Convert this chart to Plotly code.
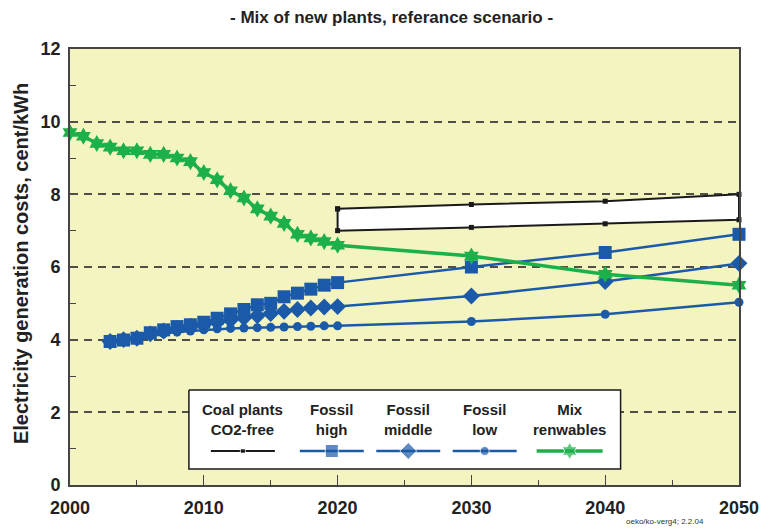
import plotly.graph_objects as go

# ---------------- data ----------------
years_renew = list(range(2000, 2021)) + [2030, 2040, 2050]
mix_renewables = [9.7, 9.6, 9.4, 9.3, 9.2, 9.2, 9.1, 9.1, 9.0, 8.9, 8.6, 8.4, 8.1, 7.9,
                  7.6, 7.4, 7.2, 6.9, 6.8, 6.7, 6.6, 6.3, 5.8, 5.5]

years_fossil = list(range(2003, 2021)) + [2030, 2040, 2050]
fossil_high = [3.95, 3.99, 4.04, 4.19, 4.27, 4.36, 4.41, 4.48, 4.59, 4.71, 4.83, 4.96,
               5.0, 5.18, 5.28, 5.39, 5.5, 5.57, 6.0, 6.4, 6.9]
fossil_middle = [3.95, 4.0, 4.04, 4.16, 4.24, 4.31, 4.37, 4.42, 4.48, 4.54, 4.6, 4.66,
                 4.72, 4.78, 4.83, 4.87, 4.9, 4.91, 5.2, 5.6, 6.1]
fossil_low = [3.95, 3.99, 4.04, 4.12, 4.17, 4.21, 4.24, 4.27, 4.3, 4.31, 4.32, 4.33,
              4.34, 4.35, 4.36, 4.37, 4.38, 4.38, 4.5, 4.7, 5.03]

years_coal = [2020, 2030, 2040, 2050]
coal_upper = [7.6, 7.72, 7.81, 8.0]
coal_lower = [7.0, 7.09, 7.19, 7.3]

y_ticks = [0, 2, 4, 6, 8, 10, 12]
x_ticks = [2000, 2010, 2020, 2030, 2040, 2050]

legend_labels = ["Coal plants<br>CO2-free", "Fossil<br>high", "Fossil<br>middle",
                 "Fossil<br>low", "Mix<br>renwables"]

# ---------------- styles ----------------
BLUE = "#1B5AA9"
GREEN = "#1CB04B"
BLACK = "#1a1a1a"
FONT = "Liberation Sans, Arial, sans-serif"

# plot area in page pixels
PL, PR, PT, PB = 70, 739.5, 49, 485
PW, PH = PR - PL, PB - PT


def px(x):
    return (x - PL) / PW


def py(y):
    return (PB - y) / PH


styles = [
    dict(color=BLACK, width=2, symbol="square", size=5),
    dict(color=BLUE, width=2.5, symbol="square", size=13),
    dict(color=BLUE, width=2.5, symbol="diamond", size=13),
    dict(color=BLUE, width=2.5, symbol="circle", size=9),
    dict(color=GREEN, width=3.5, symbol="hexagram", size=13),
]

fig = go.Figure()

# coal band (closed polygon, white filled)
cx = years_coal + years_coal[::-1] + [years_coal[0]]
cy = coal_upper + coal_lower[::-1] + [coal_upper[0]]
fig.add_trace(go.Scatter(x=cx, y=cy, mode="lines+markers", fill="toself",
                         fillcolor="white",
                         line=dict(color=BLACK, width=2),
                         marker=dict(symbol="square", size=5, color=BLACK),
                         showlegend=False, cliponaxis=False))

series = [(years_fossil, fossil_low, styles[3]),
          (years_fossil, fossil_middle, styles[2]),
          (years_fossil, fossil_high, styles[1]),
          (years_renew, mix_renewables, styles[4])]
for xs, ys, st in series:
    fig.add_trace(go.Scatter(x=xs, y=ys, mode="lines+markers",
                             line=dict(color=st["color"], width=st["width"]),
                             marker=dict(symbol=st["symbol"], size=st["size"],
                                         color=st["color"]),
                             showlegend=False, cliponaxis=False))

# ---------------- custom legend on overlay pixel axes ----------------
box = dict(x0=189, x1=621, y0=390, y1=469)
fig.add_trace(go.Scatter(x=[box["x0"], box["x1"], box["x1"], box["x0"], box["x0"]],
                         y=[box["y0"], box["y0"], box["y1"], box["y1"], box["y0"]],
                         mode="lines", fill="toself", fillcolor="white",
                         line=dict(color=BLACK, width=1.5),
                         xaxis="x2", yaxis="y2", showlegend=False, hoverinfo="skip"))
centers = [243, 332, 408.5, 485, 570]
half = [32, 32, 32, 32, 33]
sample_y = 451
for c, h, st, lab in zip(centers, half, styles, legend_labels):
    fig.add_trace(go.Scatter(x=[c - h, c, c + h], y=[sample_y] * 3,
                             mode="lines+markers",
                             line=dict(color=st["color"], width=st["width"]),
                             marker=dict(symbol=st["symbol"], size=[0, st["size"], 0],
                                         color=st["color"]),
                             xaxis="x2", yaxis="y2", showlegend=False, hoverinfo="skip"))
    fig.add_annotation(x=c, y=419, xref="x2", yref="y2", text=lab, showarrow=False,
                       font=dict(family=FONT, size=15, color="#222", weight="bold"),
                       align="center", yanchor="middle")

fig.update_layout(
    width=760, height=529,
    margin=dict(l=PL, r=760 - PR, t=PT, b=529 - PB, autoexpand=False),
    paper_bgcolor="white",
    plot_bgcolor="#F4F4C0",
    showlegend=False,
    xaxis=dict(range=[2000, 2050], tickvals=x_ticks, ticks="inside", ticklen=10,
               tickcolor="#444", tickwidth=1.3, ticklabelstandoff=6, automargin=False,
               minor=dict(dtick=5, ticks="inside", ticklen=5, tickcolor="#444",
                          tickwidth=1.3, showgrid=False),
               showgrid=False, zeroline=False,
               showline=True, linecolor="#444", linewidth=1.6, mirror=True,
               tickfont=dict(family=FONT, size=18, color="#222", weight="bold")),
    yaxis=dict(range=[0, 12], tickvals=y_ticks, ticks="", showgrid=True,
               gridcolor="#4f4f48", gridwidth=1.6, griddash="8px,6px",
               ticklabelstandoff=4, automargin=False,
               minor=dict(tickvals=[1, 3, 5, 7, 9, 11], ticks="inside", ticklen=6,
                          tickcolor="#444", tickwidth=1.3, showgrid=False),
               zeroline=False,
               showline=True, linecolor="#444", linewidth=1.6, mirror=True,
               tickfont=dict(family=FONT, size=18, color="#222", weight="bold")),
    xaxis2=dict(overlaying="x", range=[PL, PR], visible=False, fixedrange=True,
                automargin=False),
    yaxis2=dict(overlaying="y", range=[PB, PT], visible=False, fixedrange=True,
                automargin=False),
)

# title
fig.add_annotation(x=px(391.5), y=py(18), xref="paper", yref="paper",
                   text="- Mix of new plants, referance scenario -", showarrow=False,
                   xanchor="center", yanchor="middle",
                   font=dict(family=FONT, size=17, color="#222", weight="bold"))
# y axis title
fig.add_annotation(x=px(21), y=py(264), xref="paper", yref="paper",
                   text="Electricity generation costs, cent/kWh", textangle=-90,
                   showarrow=False, xanchor="center", yanchor="middle",
                   font=dict(family=FONT, size=20, color="#222", weight="bold"))
# footer
fig.add_annotation(x=px(665), y=py(521), xref="paper", yref="paper",
                   text="oeko/ko-verg4; 2.2.04", showarrow=False,
                   xanchor="center", yanchor="middle",
                   font=dict(family=FONT, size=8, color="#333"))

fig.write_html("out.html", config={"displayModeBar": False},
               post_script="document.body.style.margin='0';")
